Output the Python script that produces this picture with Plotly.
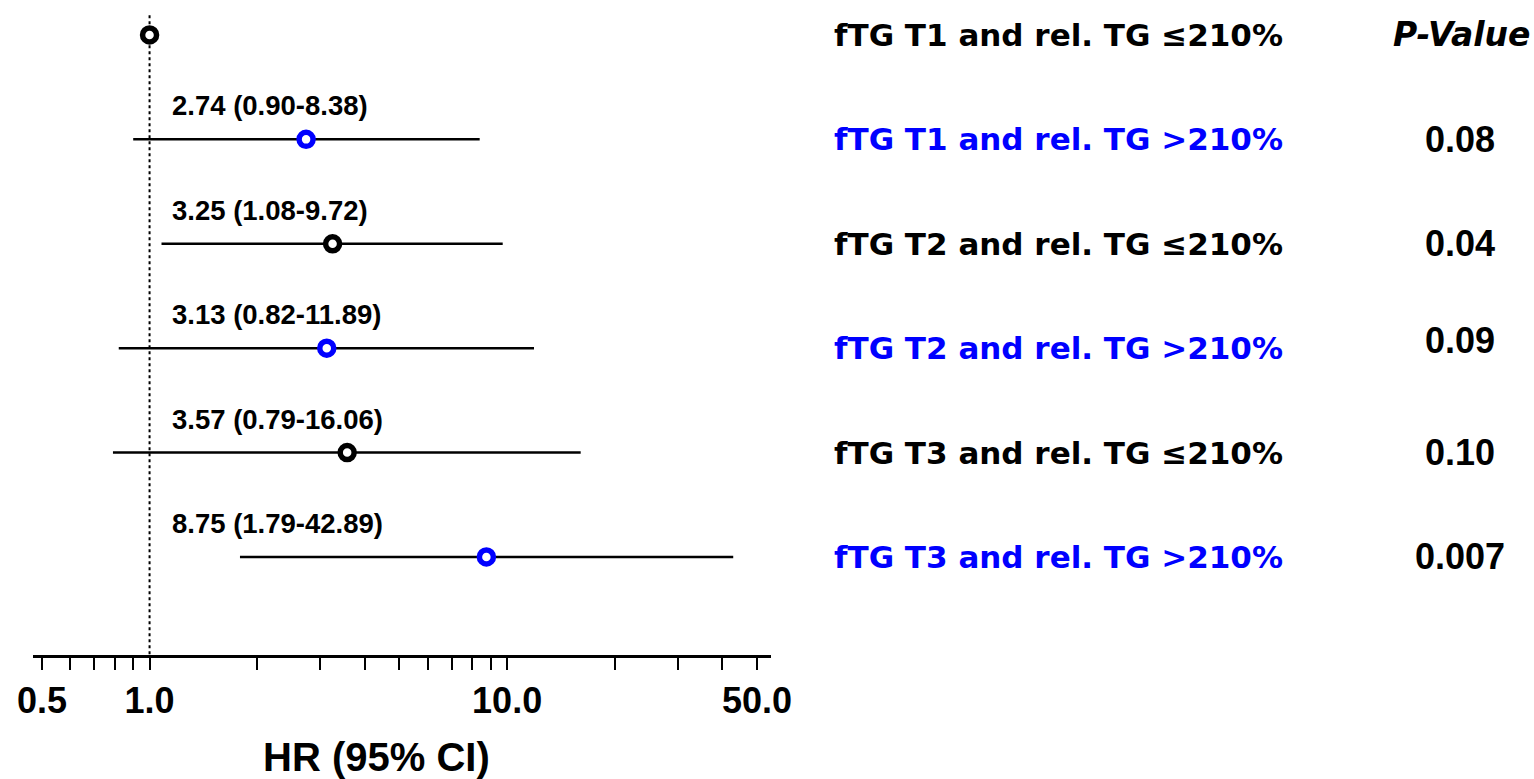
import plotly.graph_objects as go

# ---- data ----
groups = ["fTG T1 and rel. TG ≤210%", "fTG T1 and rel. TG >210%",
          "fTG T2 and rel. TG ≤210%", "fTG T2 and rel. TG >210%",
          "fTG T3 and rel. TG ≤210%", "fTG T3 and rel. TG >210%"]
hr = [1.0, 2.74, 3.25, 3.13, 3.57, 8.75]
ci_low = [None, 0.90, 1.08, 0.82, 0.79, 1.79]
ci_high = [None, 8.38, 9.72, 11.89, 16.06, 42.89]
ci_labels = [None, "2.74 (0.90-8.38)", "3.25 (1.08-9.72)", "3.13 (0.82-11.89)",
             "3.57 (0.79-16.06)", "8.75 (1.79-42.89)"]
p_values = [None, "0.08", "0.04", "0.09", "0.10", "0.007"]
row_colors = ["#000000", "#0000FF", "#000000", "#0000FF", "#000000", "#0000FF"]
tick_vals = [0.5, 0.6, 0.7, 0.8, 0.9, 1, 2, 3, 4, 5, 6, 7, 8, 9, 10, 20, 30, 40, 50]
tick_text = {0.5: "0.5", 1: "1.0", 10: "10.0", 50: "50.0"}

rows = list(range(len(groups)))
W, H = 1534, 779
fig = go.Figure()

# CI lines
lx, ly = [], []
for i in rows:
    if ci_low[i] is not None:
        lx += [ci_low[i], ci_high[i], None]
        ly += [i, i, None]
fig.add_trace(go.Scatter(x=lx, y=ly, mode="lines",
                         line=dict(color="black", width=2.5),
                         hoverinfo="skip", showlegend=False))

# reference line at HR = 1
fig.add_shape(type="line", xref="x", yref="y", x0=1, x1=1, y0=-0.19, y1=5.94,
              line=dict(color="black", width=2, dash="dot"), layer="below")

# markers
fig.add_trace(go.Scatter(x=hr, y=rows, mode="markers",
                         marker=dict(symbol="circle", size=14, color="white",
                                     line=dict(color=row_colors, width=5.5)),
                         showlegend=False))

ann = []
for i in rows:
    if ci_labels[i]:
        ann.append(dict(x=170 / W, xref="paper", y=i - 0.32, yref="y",
                        text=ci_labels[i], showarrow=False, xanchor="left",
                        yanchor="middle",
                        font=dict(family="Liberation Sans", size=27.5,
                                  color="black", weight="bold")))
    ann.append(dict(x=832 / W, xref="paper", y=i, yref="y", text=groups[i],
                    showarrow=False, xanchor="left", yanchor="middle",
                    font=dict(family="DejaVu Sans", size=31, color=row_colors[i],
                              weight="bold")))
    if p_values[i]:
        ann.append(dict(x=1460 / W, xref="paper", y=i - (0.07 if i == 3 else 0),
                        yref="y", text=p_values[i], showarrow=False,
                        xanchor="center", yanchor="middle",
                        font=dict(family="Liberation Sans", size=36,
                                  color="black", weight="bold")))
ann.append(dict(x=1461 / W, xref="paper", y=0, yref="y", text="P-Value",
                showarrow=False, xanchor="center", yanchor="middle",
                font=dict(family="DejaVu Sans", size=33, color="black",
                          weight="bold", style="italic")))
ann.append(dict(x=376 / W, xref="paper", y=(655 - 757) / 655, yref="paper",
                text="HR (95% CI)", showarrow=False, xanchor="center",
                yanchor="middle",
                font=dict(family="Liberation Sans", size=40, color="black",
                          weight="bold")))

fig.update_layout(
    width=W, height=H,
    margin=dict(l=0, r=0, t=0, b=124, autoexpand=False),
    paper_bgcolor="white", plot_bgcolor="white",
    annotations=ann,
    xaxis=dict(type="log", range=[-0.326, 1.738], domain=[33 / W, 771 / W],
               automargin=False,
               showgrid=False, zeroline=False, showline=True,
               linecolor="black", linewidth=2.5,
               ticks="outside", ticklen=12, tickwidth=2, tickcolor="black",
               tickvals=tick_vals,
               ticktext=[tick_text.get(v, "") for v in tick_vals],
               tickfont=dict(family="Liberation Sans", size=36, color="black",
                             weight="bold")),
    yaxis=dict(range=[5.939, -0.335], visible=False, showgrid=False,
               zeroline=False, automargin=False),
)

fig.write_html("out.html")
